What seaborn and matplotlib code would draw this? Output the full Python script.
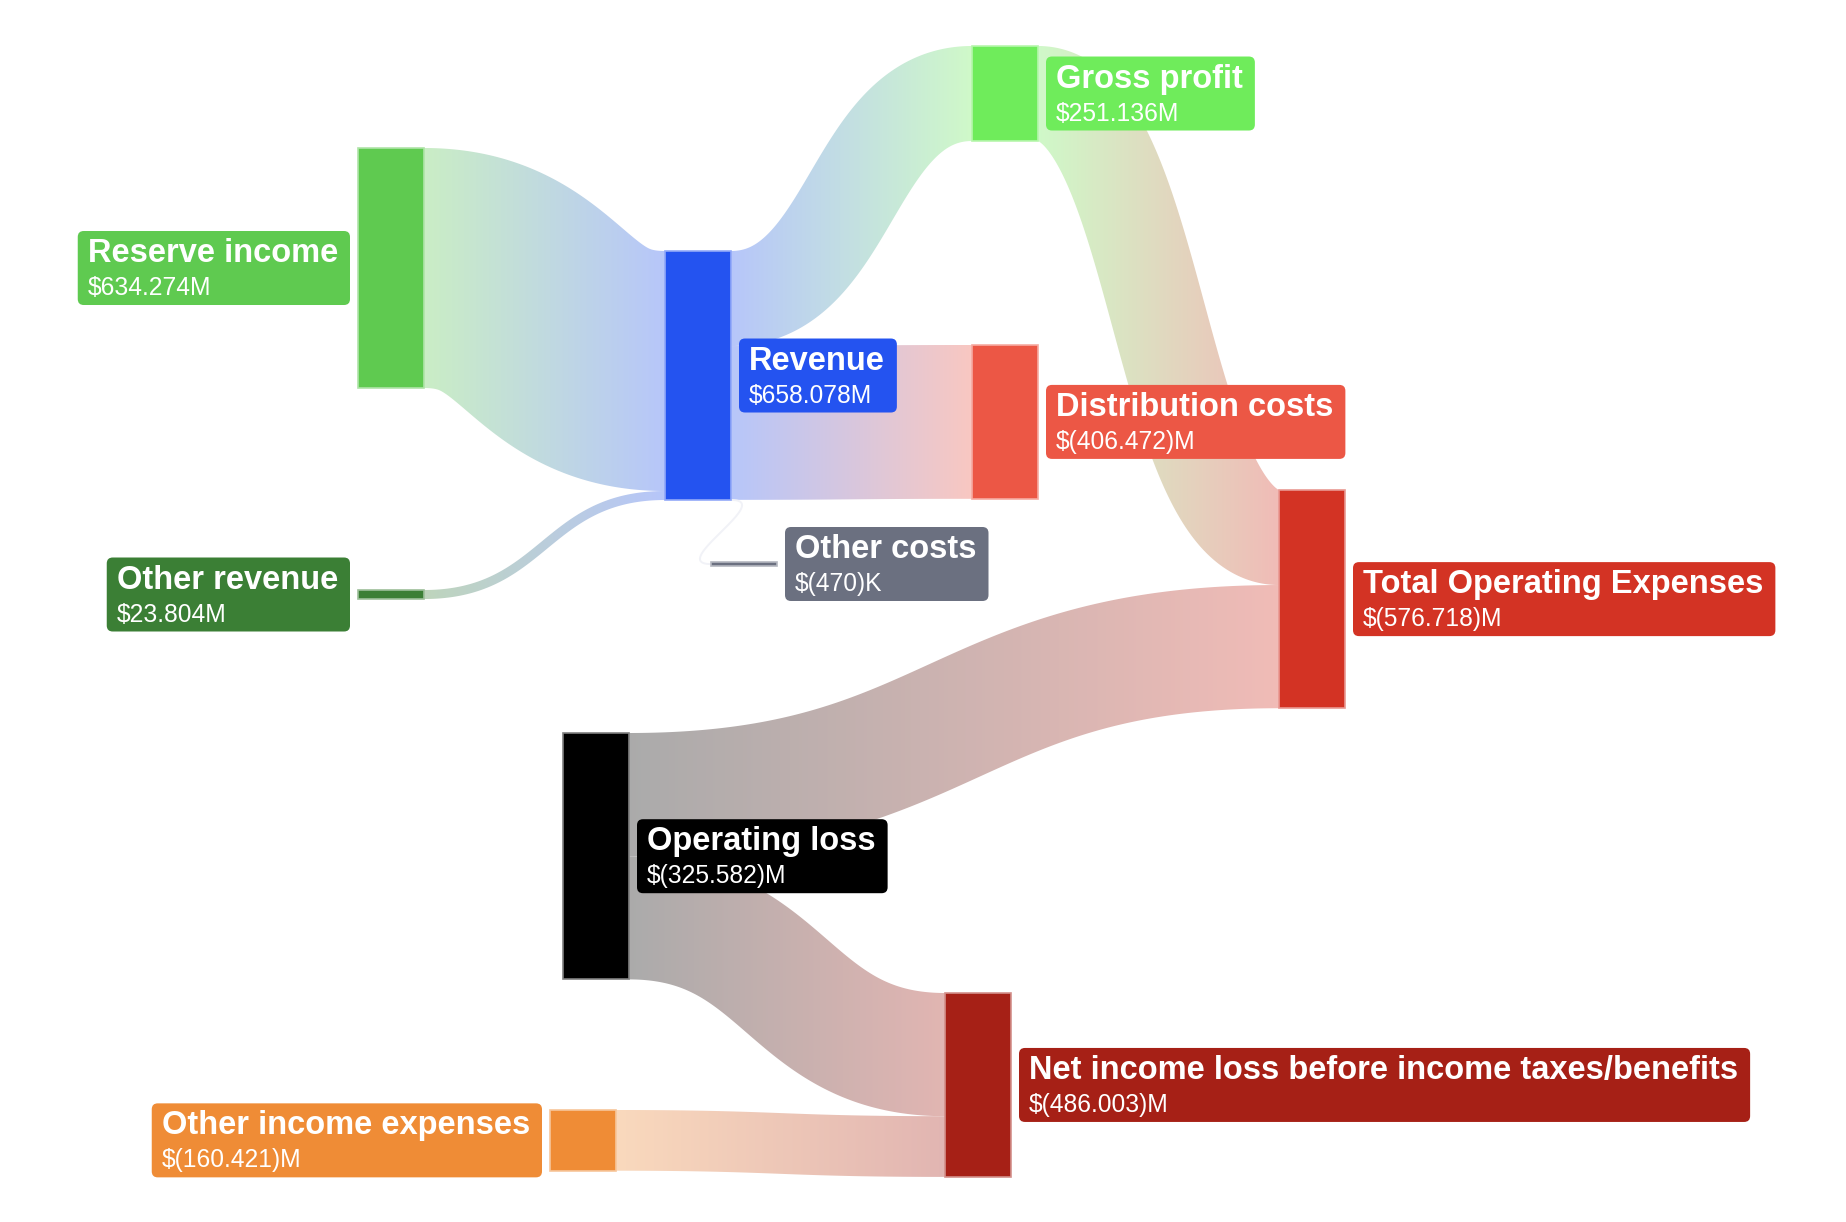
import numpy as np
import matplotlib.pyplot as plt
import matplotlib.colors as mcolors
from matplotlib.path import Path
from matplotlib.patches import PathPatch, FancyBboxPatch, Rectangle
import seaborn as sns

# Nodes of the income statement sankey ($M, negative = cost/loss)
node_names = ['Reserve income', 'Other revenue', 'Revenue', 'Gross profit',
              'Distribution costs', 'Other costs', 'Total Operating Expenses',
              'Operating loss', 'Net income loss before income taxes/benefits',
              'Other income expenses']
node_values = [634.274, 23.804, 658.078, 251.136, -406.472, -0.470,
               -576.718, -325.582, -486.003, -160.421]
node_colors = ['#5fca50', '#3b7f35', '#2453f0', '#6fec5b', '#ec5745',
               '#6b7080', '#d33324', '#000000', '#a62016', '#ef8c36']

# Links: source index -> target index, value in $M
link_source = [0, 1, 2, 2, 2, 3, 7, 7, 9]
link_target = [2, 2, 3, 4, 5, 6, 6, 8, 8]
link_value = [634.274, 23.804, 251.136, 406.472, 0.470, 251.136,
              325.582, 325.582, 160.421]

# layout (pixels): node left edge / top edge and which side the label sits
node_x = [358, 358, 665, 972, 972, 711, 1279, 563, 945, 550]
node_y = [148, 590, 251, 46, 345, 562, 490, 733, 993, 1110]
label_left = [True, True, False, False, False, False, False, False, False, True]
NODE_W = 66
SCALE = 0.3784       # px per $M
MIN_H = 4
LINK_ALPHA = 0.33
W, H = 1846, 1222

sns.set_theme(style='white')
plt.rcParams['font.family'] = ['Liberation Sans', 'DejaVu Sans']

fig = plt.figure(figsize=(W / 100, H / 100), dpi=100)
ax = fig.add_axes([0, 0, 1, 1])
ax.set_xlim(0, W)
ax.set_ylim(H, 0)
ax.set_autoscale_on(False)
ax.axis('off')

n = len(node_names)
flow_in = np.zeros(n)
flow_out = np.zeros(n)
for s, t, v in zip(link_source, link_target, link_value):
    flow_out[s] += v
    flow_in[t] += v
node_h = np.maximum(np.maximum(flow_in, flow_out) * SCALE, MIN_H)
centers = np.array(node_y) + node_h / 2


def lighten(c, a=LINK_ALPHA):
    rgb = np.array(mcolors.to_rgb(c))
    return tuple(a * rgb + (1 - a))


def fmt(v):
    if abs(v) < 1:
        s = f'{abs(v) * 1000:.0f}'
        unit = 'K'
    else:
        s = f'{abs(v):.3f}'
        unit = 'M'
    return f'$({s}){unit}' if v < 0 else f'${s}{unit}'


# stacking offsets of links at each node (sorted by the other end's position)
out_off = {}
in_off = {}
for i in range(n):
    outs = sorted([k for k in range(len(link_value)) if link_source[k] == i],
                  key=lambda k: centers[link_target[k]])
    y = node_y[i]
    for k in outs:
        out_off[k] = y
        y += link_value[k] * SCALE
    ins = sorted([k for k in range(len(link_value)) if link_target[k] == i],
                 key=lambda k: centers[link_source[k]])
    y = node_y[i]
    for k in ins:
        in_off[k] = y
        y += link_value[k] * SCALE

tt = np.linspace(0, 1, 700)


def bez(p0, p1, p2, p3):
    return ((1 - tt) ** 3 * p0 + 3 * (1 - tt) ** 2 * tt * p1
            + 3 * (1 - tt) * tt ** 2 * p2 + tt ** 3 * p3)


def stroke_bounds(cx, cy, r, xs):
    # outline of a centre line stroked with a pen of radius r (butt ends)
    dx = xs[:, None] - cx[None, :]
    inside = np.abs(dx) <= r
    h = np.sqrt(np.clip(r ** 2 - dx ** 2, 0, None))
    lo = np.where(inside, cy[None, :] - h, np.inf).min(axis=1)
    hi = np.where(inside, cy[None, :] + h, -np.inf).max(axis=1)
    return lo, hi


for k, v in enumerate(link_value):
    s, t = link_source[k], link_target[k]
    x0 = node_x[s] + NODE_W
    x1 = node_x[t]
    th = v * SCALE
    y0c, y1c = out_off[k] + th / 2, in_off[k] + th / 2
    c0, c1 = lighten(node_colors[s]), lighten(node_colors[t])
    if x1 < x0:
        # tiny backward link (Revenue -> Other costs)
        bx = bez(x0, x0 + 45, x1 - 45, x1)
        by = bez(y0c, y0c, y1c + 2, y1c + 2)
        ax.plot(bx, by, color='#f1f2f7', lw=1.4, zorder=1, solid_capstyle='round')
        continue
    xm = (x0 + x1) / 2
    cx = bez(x0, xm, xm, x1)
    cy = bez(y0c, y0c, y1c, y1c)
    xs = np.linspace(x0, x1, 600)
    lo, hi = stroke_bounds(cx, cy, th / 2, xs)
    verts = np.vstack([np.column_stack([xs, lo]),
                       np.column_stack([xs[::-1], hi[::-1]])])
    verts = np.vstack([verts, verts[:1]])
    patch = PathPatch(Path(verts, closed=True), facecolor='none', edgecolor='none')
    ax.add_patch(patch)
    grad = np.array(sns.blend_palette([c0, c1], n_colors=256))[None, :, :3]
    im = ax.imshow(grad, extent=(x0, x1, hi.max(), lo.min()),
                   aspect='auto', interpolation='bilinear', zorder=1)
    im.set_clip_path(patch)

# nodes
for i in range(n):
    ax.add_patch(Rectangle((node_x[i], node_y[i]), NODE_W, node_h[i],
                           facecolor=node_colors[i], edgecolor=lighten(node_colors[i], 0.5),
                           lw=1.2, zorder=3))

# labels
renderer = fig.canvas.get_renderer()
PAD = 11
BOX_H = 74
GAP = 8
for i in range(n):
    name = ax.text(0, 0, node_names[i], fontsize=23.5, fontweight='bold', color='white',
                   va='baseline', ha='left', zorder=6)
    val = ax.text(0, 0, fmt(node_values[i]), fontsize=17.7, color='white',
                  va='baseline', ha='left', zorder=6)
    tw = max(name.get_window_extent(renderer).width, val.get_window_extent(renderer).width)
    bw = tw + 2 * PAD
    if label_left[i]:
        bx0 = node_x[i] - GAP - bw
    else:
        bx0 = node_x[i] + NODE_W + GAP
    by0 = centers[i] - BOX_H / 2
    ax.add_patch(FancyBboxPatch((bx0, by0), bw, BOX_H,
                                boxstyle='round,pad=0,rounding_size=6',
                                facecolor=node_colors[i], edgecolor='none', zorder=5))
    name.set_position((bx0 + PAD - 1, by0 + 31))
    val.set_position((bx0 + PAD - 1, by0 + 64))

fig.savefig('out.png', dpi=100)
